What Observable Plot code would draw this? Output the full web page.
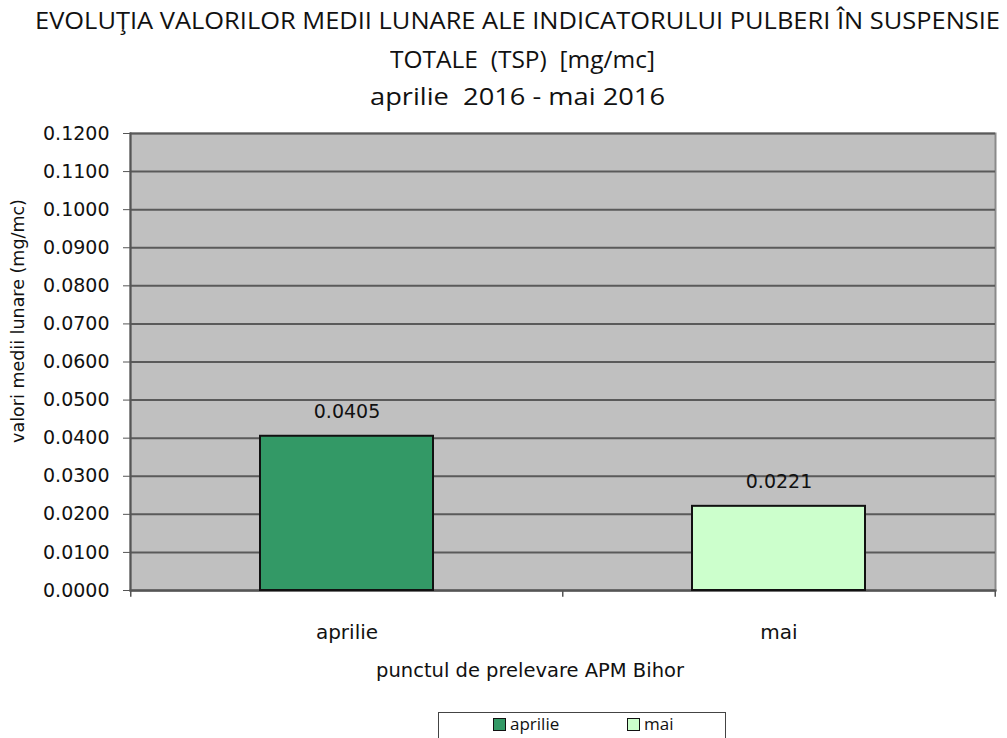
<!DOCTYPE html>
<html><head><meta charset="utf-8">
<script src="https://cdn.jsdelivr.net/npm/d3@7"></script>
<script src="https://cdn.jsdelivr.net/npm/@observablehq/plot@0.6"></script>
<style>
body{margin:0;background:#fff;}
#wrap{position:relative;width:1007px;height:738px;overflow:hidden;font-family:"Open Sans",sans-serif;}
.t{position:absolute;white-space:nowrap;color:#111;font-size:23px;line-height:1;transform-origin:0 0;}
#legend{position:absolute;left:438px;top:712px;width:288px;height:40px;border:1.5px solid #444;border-bottom:none;box-sizing:border-box;font-size:17px;line-height:1.1;color:#111;font-family:"Open Sans",sans-serif;}
.sw{display:inline-block;width:11px;height:11px;border:1.5px solid #111;vertical-align:-1px;margin-right:4px;}
</style></head>
<body><div id="wrap">
<div id="chart"></div>
<div class="t" id="t1">EVOLUŢIA VALORILOR MEDII LUNARE ALE INDICATORULUI PULBERI ÎN SUSPENSIE</div>
<div class="t" id="t2">TOTALE&nbsp; (TSP)&nbsp; [mg/mc]</div>
<div class="t" id="t3">aprilie&nbsp; 2016 - mai 2016</div>
<div id="legend"></div>
</div>
<script>
const categories = ["aprilie", "mai"];
const values = [0.0405, 0.0221];
const colors = ["#339966", "#CCFFCC"];
const yTicks = [0, 0.01, 0.02, 0.03, 0.04, 0.05, 0.06, 0.07, 0.08, 0.09, 0.10, 0.11, 0.12];
const xTitle = "punctul de prelevare APM Bihor";
const yTitle = "valori medii lunare (mg/mc)";

const data = categories.map((c, i) => ({month: c, value: values[i]}));
const fmt = d3.format(".4f");
const step = (1007 - 130 - 12) / 2;

const plot = Plot.plot({
  width: 1007, height: 738,
  marginTop: 133, marginBottom: 148, marginLeft: 130, marginRight: 12,
  style: {fontFamily: "DejaVu Sans, sans-serif", background: "transparent", overflow: "visible"},
  x: {domain: categories, paddingInner: 0.6, paddingOuter: 0.3, label: null},
  y: {domain: [0, 0.12], label: null},
  color: {domain: categories, range: colors},
  marks: [
    Plot.frame({fill: "#C0C0C0", stroke: "#8a8a8a", strokeWidth: 2}),
    Plot.ruleY(yTicks, {stroke: "#5a5a5a", strokeWidth: 2}),
    Plot.frame({anchor: "left", stroke: "#555", strokeWidth: 2}),
    Plot.frame({anchor: "bottom", stroke: "#555", strokeWidth: 2}),
    Plot.barY(data, {x: "month", y: "value", fill: "month", stroke: "#111", strokeWidth: 2}),
    Plot.text(data, {x: "month", y: "value", text: d => fmt(d.value), dy: -24, fontSize: 19, fill: "#111"}),
    Plot.axisY({ticks: yTicks, tickFormat: fmt, tickSize: 7, tickPadding: 14, fontSize: 19, stroke: "#555", color: "#111", label: null}),
    Plot.ruleX(data, {x: "month", y1: 0, y2: -0.0018, dx: -step / 2, stroke: "#555", strokeWidth: 1.5}),
    Plot.ruleX(data.slice(1), {x: "month", y1: 0, y2: -0.0018, dx: step / 2, stroke: "#555", strokeWidth: 1.5}),
    Plot.axisX({tickSize: 0, tickPadding: 34, fontSize: 20, color: "#111", label: null}),
    Plot.text([xTitle], {frameAnchor: "bottom", dx: -33, dy: 86, fontSize: 19.5, fill: "#111"}),
    Plot.text([yTitle], {frameAnchor: "left", textAnchor: "middle", dx: -112, dy: -41, rotate: -90, fontSize: 17.5, fill: "#111"})
  ]
});
document.getElementById("chart").appendChild(plot);

// title lines: fit each to the reference's width
function fit(id, left, top, w) {
  const el = document.getElementById(id);
  const bw = el.getBoundingClientRect().width;
  el.style.left = left + "px";
  el.style.top = top + "px";
  el.style.transform = `scaleX(${w / bw})`;
}
fit("t1", 35, 9, 965);
fit("t2", 390, 48, 265);
fit("t3", 370, 85, 295);

const leg = document.getElementById("legend");
leg.innerHTML = `<span style="position:absolute;left:54px;top:2px;"><span class="sw" style="background:${colors[0]}"></span>${categories[0]}</span>` +
  `<span style="position:absolute;left:188px;top:2px;"><span class="sw" style="background:${colors[1]}"></span>${categories[1]}</span>`;
</script>
</body></html>
